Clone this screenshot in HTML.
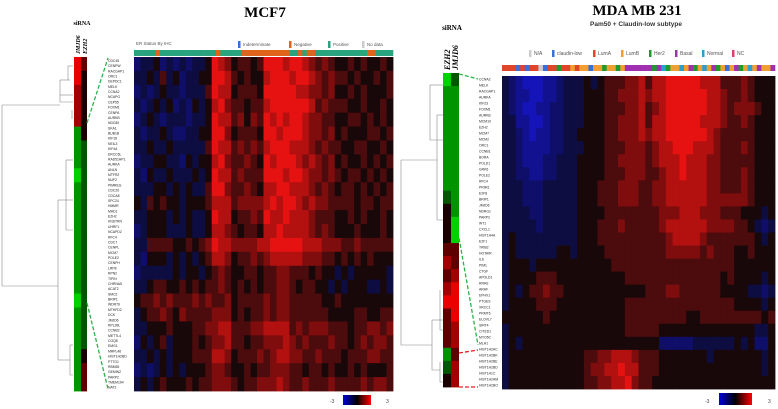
<!DOCTYPE html>
<html><head><meta charset="utf-8"><style>
body{margin:0;background:#fff;}
svg{display:block;font-family:"Liberation Sans",sans-serif;}
.t{font-family:"Liberation Serif",serif;font-weight:bold;}
</style></head><body>
<svg id="s" width="778" height="409" viewBox="0 0 778 409">
<text class="t" x="265" y="17" font-size="15" text-anchor="middle">MCF7</text>
<text class="t" x="637" y="15" font-size="15" text-anchor="middle">MDA MB 231</text>
<text x="636" y="26" font-size="6.5" font-weight="bold" fill="#333" text-anchor="middle">Pam50 + Claudin-low subtype</text>
<text class="t" x="82" y="25" font-size="6" text-anchor="middle">siRNA</text>
<text class="t" x="452" y="30" font-size="7" text-anchor="middle">siRNA</text>
<text class="t" font-size="6" font-style="italic" transform="translate(80,54) rotate(-90)">JMJD6</text>
<text class="t" font-size="6" font-style="italic" transform="translate(87,54) rotate(-90)">EZH2</text>
<text class="t" font-size="8" font-style="italic" transform="translate(450,70) rotate(-90)">EZH2</text>
<text class="t" font-size="8" font-style="italic" transform="translate(458,70) rotate(-90)">JMJD6</text>
<g id="g"></g>
</svg>
<script>
const leftGenes=["CDC45","CENPW","RACGAP1","ORC1","DEPDC1","MELK","CCNA2","NCAPG","CEP55","FOXM1","CENPA","AURKB","NDC80","SKA1","BUB1B","KIF18","NEIL3","KIF4A","ERCC6L","RAD51AP1","AURKA","ANLN","MTFR2","NUF2","PIMREG","CDC20","CDCA8","SPC24","HMMR","MAD1","EZH2","KNSTRN","UHRF1","NCAPD2","RFC4","CDC7","CENPL","MCM7","POLE2","CENPH","LRP8","RPN2","TIPIN","CHRNA5","ACAT2","SMC2","BRIP1","WDR76","MTHFD2","DCK","JMJD6","RPL39L","CCNB2","METTL4","COQ8","EMG1","MRPL46","HIST1H2BD","PTTG1","RBM35","GEMIN2","PARP2","TMEM194","NAT2"];
const rightGenes=["CCNA2","MELK","RACGAP1","AURKA","KIF23","FOXM1","AURKB","MCM10","EZH2","MCM7","MCM2","ORC1","CCNB1","BORA","POLD1","GRK6","POLE2","RFC4","PRIM1","E2F8","BRIP1","JMJD6","NDRG1","PARP2","WT1","CXCL1","HIST1H4A","E2F1","TRIB2","HOTAIR","IL6","PIM1","CTGF","APOLD1","RRAS","ARAF","EPHX1","PTGES","XRCC1","PRMT6","ELOVL7","SIRT4","CITED1","MYO5C","MLH1","HIST1H2AC","HIST1H2BK","HIST1H2BE","HIST1H2BD","HIST1H1C","HIST1H2AM","HIST1H2BO"];
const leftValues=[
"3445343434459875665699989987676556565565",
"4454645344559986565589998998767665655656",
"3434544344469885666599999887767556565556",
"4345453435458976656689999998676665565565",
"3454344434459886757698989987766556656565",
"4344543344559975666599899987767565556656",
"4454454444469886767689998887676655665565",
"3445544354558976676598999878767565565656",
"4354454445459886766699989987767656656565",
"4445545454469976676588998887676566565656",
"5465655455568886777789899878776666566566",
"4455545454459885667698898887666556565565",
"3455544454458876566588988887676555655565",
"4466665565679887777889999988877766766666",
"4355545454568875667678888877766565656555",
"3444445455456765566566776665655454555554",
"4456655656566765656566776566554545554454",
"5667676667676675666676776666655655555555",
"4566765766667775656676776666665555665566",
"4455565556677886667788886767776665667767",
"3545645556567786656677787676667665676776",
"4454545556668875666767887766766656667766",
"3434545455567765565667776656656556565556",
"4545655565667776566777876676667666676776"];
const rightValues=[
"4321112234445456667786889999988866676555",
"4322112234445556677787889999998876676555",
"4321122334445556667786789999998876777655",
"4422112334445556677786889999988876676555",
"4432122334455556677787889999998766666555",
"4432222334445556667776788999888766676555",
"4432223344455556677776788898887766666555",
"4433223344455556667776678898887766676555",
"4443334444455566677766778888887766676555",
"4443334444455566677766778888887777776555",
"4444334444455556666666677788877766655545",
"4444434444455566676666678888887777665434",
"4544444444455566666666667888876666666545",
"4544444455455556666666667777767666556555",
"4555455555555555666666666666666666555555",
"4555566655555555556666666666666656555545",
"4545667665555555555556667766666655554434",
"4555566655555555556666666666666666555545",
"5555556555555555556666666665566666666656",
"4555555555555555556666655555555555555445",
"4545555555555555555555533333444444545335",
"4555555555556677888766655555554555555545",
"4555555555556778898866655555555555555545",
"4555555555556677889766555555555555555555"];
const leftJMJD6=[3,3,2,2,2,-2,-2,-2,-3,-2,-2,-2,-2,-2,-2,-2,-2,-3,-2,-2,-2,-2,-2,-2];
const leftEZH2=[1,0,0,0,0,0,-1,-1,-1,-1,-1,-1,-1,-1,-1,-1,-1,-1,-1,-1,-1,0,1,1];
const rightEZH2=[-3,-2,-2,-2,-2,-2,-2,-2,-2,-1,0,0,0,1,2,1,2,3,1,1,1,-2,-1,0];
const rightJMJD6=[-1,-2,-2,-2,-2,-2,-2,-2,-2,-2,-2,-3,-3,1,1,2,3,3,3,2,2,1,2,2];
const leftER=[3,3,3,3,3,1,3,3,3,3,3,3,3,3,3,3,3,3,3,1,3,3,3,3,3,1,1,1,1,1,1,1,1,1,1,1,3,3,1,3,1,1,3,3,3,3,3,3,3,3,3,3,3,3,1,1,3,3,3,3];
const rightPAM=[2,2,2,1,2,1,2,2,0,1,2,2,4,2,2,3,2,3,3,1,3,3,4,3,3,4,3,5,5,5,5,5,5,4,5,6,4,3,3,6,3,5,4,3,6,3,5,4,3,1,3,5,4,3,6,3,5,3,3,5];
const erColors=["#3a6ed8","#e0641c","#999","#2aa37f"];
const pamColors=["#ccc","#3a6ed8","#e0452a","#f0a030","#1e9a30","#a030b0","#2aa0d0","#e04070"];

const NS="http://www.w3.org/2000/svg";
const g=document.getElementById('g');
function el(t,a){const e=document.createElementNS(NS,t);for(const k in a)e.setAttribute(k,a[k]);g.appendChild(e);return e;}
function heatColor(v){
  const d=(v-5)/4;
  if(d>=0){return `rgb(${Math.round(25+205*Math.min(1,d))},${Math.round(8+10*d)},${Math.round(10+8*d)})`;}
  const n=Math.min(1,-d);return `rgb(${Math.round(10+10*n)},${Math.round(10+10*n)},${Math.round(25+160*n)})`;
}
function sideColor(v){const d=v/3;if(d>=0)return `rgb(${Math.round(25+210*d)},0,0)`;return `rgb(0,${Math.round(25+185*(-d))},0)`;}
function drawHeat(vals,x0,y0,w,h,name){
  const rows=vals.length,cols=vals[0].length;const cw=w/cols,rh=h/rows;
  vals.forEach((row,r)=>{for(let c=0;c<cols;c++){
    const e=el('rect',{x:x0+c*cw,y:y0+r*rh,width:cw+0.4,height:rh+0.4,fill:heatColor(+row[c])});
    
    
  }});
}
function drawSide(vals,x0,y0,w,h,name){
  const rh=h/vals.length;
  vals.forEach((v,r)=>{const e=el('rect',{x:x0,y:y0+r*rh,width:w,height:rh+0.4,fill:sideColor(v)});
    
    });
}
function drawAnn(vals,colors,x0,y0,w,h,name){
  const cw=w/vals.length;
  vals.forEach((v,i)=>{const e=el('rect',{x:x0+i*cw,y:y0,width:cw+0.3,height:h,fill:colors[v]});
    
    });
}
function drawLabels(list,x,y0,h,name){
  const rh=h/list.length;
  list.forEach((s,i)=>{const t=el('text',{x:x,y:y0+i*rh+rh*0.75,'font-size':Math.min(3.4,rh*0.9),fill:'#222'});t.textContent=s;
    
    });
}
drawHeat(leftValues,134,57,259,334,'mcf7-heatmap');
drawHeat(rightValues,502,76,273,313,'mda-heatmap');
drawSide(leftJMJD6,74,57,7,334,'left-jmjd6-bar');
drawSide(leftEZH2,81,57,6,334,'left-ezh2-bar');
drawSide(rightEZH2,443,73,8,314,'right-ezh2-bar');
drawSide(rightJMJD6,451,73,8,314,'right-jmjd6-bar');
drawAnn(leftER,erColors,134,50,259,6,'er-status-bar');
drawAnn(rightPAM,pamColors,502,65,273,6,'pam50-bar');
drawLabels(leftGenes,108,58,332,'left-gene-label');
drawLabels(rightGenes,479,76,312,'right-gene-label');

function line(pts,name,stroke,dash){const p=el('polyline',{points:pts,fill:'none',stroke:stroke||'#888','stroke-width':stroke?1.3:0.6});if(dash)p.setAttribute('stroke-dasharray',dash);
  }
line("60,80 60,102 73,102","left-dendro");line("60,80 70,80","left-dendro");line("60,95 73,95","left-dendro");
line("68,66 68,80","left-dendro");line("68,66 73,66","left-dendro");line("72,110 72,119","left-dendro");
line("2,105 60,105","left-dendro");line("2,105 2,286 58,286","left-dendro");
line("58,200 58,360","left-dendro");line("58,200 73,200","left-dendro");line("58,360 70,360","left-dendro");
line("70,345 70,375 73,375","left-dendro");line("70,345 73,345","left-dendro");
line("66,160 66,230 73,230","left-dendro");line("66,160 73,160","left-dendro");
line("401,160 437,160","right-dendro");line("401,160 401,345 432,345","right-dendro");
line("437,115 437,220 443,220","right-dendro");line("437,115 443,115","right-dendro");
line("432,320 432,370 440,370","right-dendro");line("432,320 443,320","right-dendro");
line("440,290 440,330 443,330","right-dendro");line("440,362 440,382 443,382","right-dendro");
line("430,85 430,140 443,140","right-dendro");line("430,85 443,85","right-dendro");
line("87,123 108,58","left-top-connector","#2db24a","4,2");
line("87,303 108,389","left-bottom-connector","#2db24a","4,2");
line("459,74 478,79","right-green-top-connector","#2db24a","4,2");
line("459,238 478,345","right-green-bottom-connector","#2db24a","4,2");
line("459,353 478,350","right-red-top-connector","#e02020","4,2");
line("459,387 478,387","right-red-bottom-connector","#e02020","4,2");

function leg(x,y,color,label,name,fs){const r=el('rect',{x:x,y:y-5,width:2.5,height:7,fill:color});
  const t=el('text',{x:x+5,y:y,'font-size':fs,fill:'#555'});t.textContent=label;}
{const t=el('text',{x:136,y:45,'font-size':4.5,fill:'#555'});t.textContent="ER Status By IHC";}
leg(238,46,erColors[0],"Indeterminate","legend-indeterminate",4.5);
leg(289,46,erColors[1],"Negative","legend-negative",4.5);
leg(328,46,erColors[3],"Positive","legend-positive",4.5);
leg(362,46,"#ccc","No data","legend-no-data",4.5);
const pamNames=["N/A","claudin-low","LumA","LumB","Her2","Basal","Normal","NC"];
const pamX=[529,552,593,621,649,675,702,732];
pamNames.forEach((n,i)=>leg(pamX[i],55,pamColors[i],n,'legend-'+n.toLowerCase(),5));
function key(x,y,w,h,name){const id=name+'-grad';const d=el('linearGradient',{id:id});
  [['0','#0000e0'],['0.5','#000'],['1','#ff0000']].forEach(s=>{const st=document.createElementNS(NS,'stop');st.setAttribute('offset',s[0]);st.setAttribute('stop-color',s[1]);d.appendChild(st);});
  const r=el('rect',{x:x,y:y,width:w,height:h,fill:`url(#${id})`});}
key(343,395,28,10,'mcf7-color-key');key(719,393,33,12,'mda-color-key');
[[330,403,"-3"],[386,403,"3"],[705,403,"-3"],[768,403,"3"]].forEach((a,i)=>{const t=el('text',{x:a[0],y:a[1],'font-size':5,fill:'#444'});t.textContent=a[2];
  });
</script>
</body></html>
